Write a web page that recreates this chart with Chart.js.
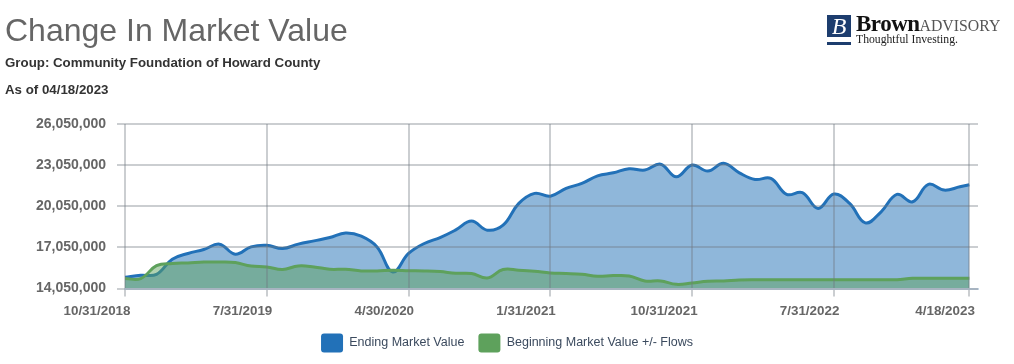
<!DOCTYPE html>
<html>
<head>
<meta charset="utf-8">
<script src="https://cdn.jsdelivr.net/npm/chart.js@4/dist/chart.umd.min.js"></script>
<style>
  html, body { margin: 0; padding: 0; background: #fff; width: 1014px; height: 364px; overflow: hidden; }
  #wrap { position: relative; width: 1014px; height: 364px; }
  #c { position: absolute; left: 0; top: 0; }
  .t { position: absolute; white-space: nowrap; font-family: "Liberation Sans", Arial, sans-serif; }
  #title { left: 5px; top: 14px; font-size: 32px; line-height: 32px; color: #666; }
  #sub1 { left: 5px; top: 56px; font-size: 13.3px; line-height: 13px; font-weight: bold; color: #333; }
  #sub2 { left: 5px; top: 83px; font-size: 13.3px; line-height: 13px; font-weight: bold; color: #333; }
  #logoB { position: absolute; left: 827px; top: 15px; width: 24px; height: 22px; background: #1d3d6e; color: #fff;
           font-family: "Liberation Serif", serif; font-style: italic; font-size: 24px; line-height: 22px; text-align: center; }
  #logoBar { position: absolute; left: 827px; top: 42px; width: 24px; height: 3px; background: #1d3d6e; }
  #brown { position: absolute; left: 856px; top: 12px; font-family: "Liberation Serif", serif; font-weight: bold; font-size: 23px; line-height: 23px; color: #111; letter-spacing: -0.5px; white-space: nowrap; }
  #brown span { font-weight: normal; font-size: 15.8px; color: #555; letter-spacing: 0; }
  #tag { position: absolute; left: 856px; top: 34px; font-family: "Liberation Serif", serif; font-size: 11.7px; line-height: 12px; color: #222; white-space: nowrap; }
</style>
</head>
<body>
<div id="wrap">
  <canvas id="c" width="1014" height="364"></canvas>
  <div class="t" id="title">Change In Market Value</div>
  <div class="t" id="sub1">Group: Community Foundation of Howard County</div>
  <div class="t" id="sub2">As of 04/18/2023</div>
  <div id="logoB">B</div>
  <div id="logoBar"></div>
  <div id="brown">Brown<span>ADVISORY</span></div>
  <div id="tag">Thoughtful Investing.</div>
</div>
<script>
// Month offsets from 10/31/2018 (last point is 4/18/2023)
const monthOffsets = [0,1,2,3,4,5,6,7,8,9,10,11,12,13,14,15,16,17,18,19,20,21,22,23,24,25,26,27,28,29,30,31,32,33,34,35,36,37,38,39,40,41,42,43,44,45,46,47,48,49,50,51,52,53,53.6];

const endingMarketValue = [
  14880000,15020000,15090000,16190000,16610000,16900000,17290000,16560000,17090000,17210000,
  16970000,17290000,17530000,17770000,18110000,17870000,17090000,15260000,16610000,17340000,
  17770000,18330000,18970000,18310000,18670000,20260000,20990000,20790000,21350000,21720000,
  22270000,22490000,22790000,22690000,23120000,22200000,23060000,22620000,23180000,22490000,
  22010000,22080000,20920000,21040000,19890000,20940000,20260000,18840000,19650000,20920000,
  20380000,21650000,21230000,21470000,21620000
];

const beginningValuePlusFlows = [
  14780000,14780000,15720000,15880000,15920000,15990000,15990000,15950000,15690000,15630000,
  15440000,15700000,15630000,15460000,15460000,15340000,15340000,15390000,15360000,15340000,
  15290000,15170000,15150000,14820000,15440000,15390000,15310000,15190000,15150000,15090000,
  14950000,15000000,14970000,14610000,14610000,14360000,14460000,14580000,14610000,14680000,
  14700000,14700000,14700000,14700000,14700000,14700000,14700000,14700000,14700000,14700000,
  14800000,14800000,14800000,14800000,14800000
];

const xTickPositions = [0, 9, 18, 27, 36, 45, 53.6];
const xTickLabels = ['10/31/2018','7/31/2019','4/30/2020','1/31/2021','10/31/2021','7/31/2022','4/18/2023'];
const yTickValues = [14050000, 17050000, 20050000, 23050000, 26050000];

const seriesNames = ['Beginning Market Value +/- Flows', 'Ending Market Value'];

const toPoints = arr => arr.map((v, i) => ({ x: monthOffsets[i], y: v }));

const gridColor = 'rgba(110,118,128,0.36)';
const yTickFont = { family: '"Liberation Sans", Arial, sans-serif', size: 14, weight: 'bold' };
const xTickFont = { family: '"Liberation Sans", Arial, sans-serif', size: 13.4, weight: 'bold' };

new Chart(document.getElementById('c'), {
  type: 'line',
  data: {
    datasets: [
      {
        label: seriesNames[0],
        data: toPoints(beginningValuePlusFlows),
        borderColor: '#5ea15c',
        backgroundColor: 'rgba(92,160,92,0.48)',
        borderWidth: 3,
        fill: 'start',
        tension: 0.4,
        pointRadius: 0
      },
      {
        label: seriesNames[1],
        data: toPoints(endingMarketValue),
        borderColor: '#2271b8',
        backgroundColor: 'rgba(31,111,181,0.5)',
        borderWidth: 3,
        fill: 'start',
        tension: 0.4,
        pointRadius: 0
      }
    ]
  },
  options: {
    responsive: false,
    animation: false,
    layout: { padding: { left: 36, right: 36, top: 124, bottom: 1.5 } },
    scales: {
      x: {
        type: 'linear',
        min: 0,
        max: 54.15,
        afterBuildTicks: s => { s.ticks = xTickPositions.map(v => ({ value: v })); },
        afterFit: s => { s.height = 30.9; },
        ticks: {
          autoSkip: false,
          maxRotation: 0,
          padding: 7,
          align: 'end',
          labelOffset: 5.5,
          color: '#666',
          font: xTickFont,
          callback: v => xTickLabels[xTickPositions.indexOf(v)]
        },
        grid: { color: gridColor, lineWidth: 2, tickLength: 8, z: 1 },
        border: { display: true, color: '#c7d6e6', width: 2, z: 1 }
      },
      y: {
        min: 14050000,
        max: 26050000,
        afterBuildTicks: s => { s.ticks = yTickValues.map(v => ({ value: v })); },
        afterFit: s => { s.width = 89; },
        ticks: {
          padding: 11,
          color: '#666',
          font: yTickFont,
          callback: v => v.toLocaleString('en-US')
        },
        grid: { color: gridColor, lineWidth: 2, tickLength: 8, z: 1 },
        border: { display: false }
      }
    },
    plugins: {
      tooltip: { enabled: false },
      legend: {
        position: 'bottom',
        labels: {
          boxWidth: 22,
          boxHeight: 19,
          useBorderRadius: true,
          borderRadius: 3,
          padding: 14,
          color: '#3b4a5e',
          font: { family: '"Liberation Sans", Arial, sans-serif', size: 12.5 },
          sort: (a, b) => b.datasetIndex - a.datasetIndex,
          generateLabels: chart => Chart.defaults.plugins.legend.labels.generateLabels(chart).map(it => {
            const ds = chart.data.datasets[it.datasetIndex];
            it.fillStyle = ds.borderColor;
            it.strokeStyle = ds.borderColor;
            it.lineWidth = 0;
            return it;
          })
        }
      }
    }
  }
});
</script>
</body>
</html>
